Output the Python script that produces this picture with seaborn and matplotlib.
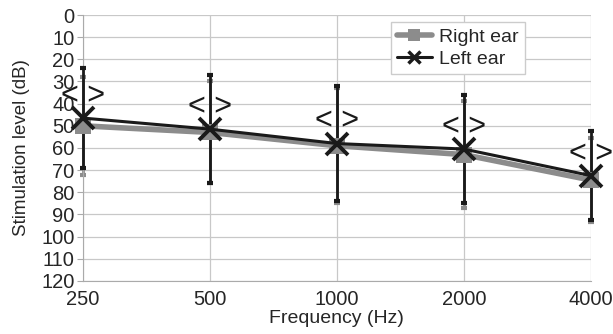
import numpy as np
import pandas as pd
import seaborn as sns
import matplotlib.pyplot as plt
from matplotlib.lines import Line2D

frequencias = ["250", "500", "1000", "2000", "4000"]
direita = [50, 53, 59, 63, 74.5]
direita_erro = [22, 23, 26, 24, 19]
esquerda = [46.5, 51.5, 58, 60.5, 72.5]
esquerda_erro = [22.5, 24.5, 26, 24.5, 20]

sns.set_style("white")
plt.rcParams["font.family"] = ["Liberation Sans", "DejaVu Sans"]

cinza = "#8c8c8c"
preto = "#1a1a1a"

pos = np.arange(len(frequencias))
dados_dir = pd.DataFrame({"pos": pos, "nivel": direita})
dados_esq = pd.DataFrame({"pos": pos, "nivel": esquerda})

fig = plt.figure(figsize=(6.13, 3.34), dpi=100)
ax = fig.add_axes([0.135, 0.159, 0.829, 0.796])

# error bars first so the lines sit on top
for media, erro, cor, z in [(direita, direita_erro, cinza, 2),
                            (esquerda, esquerda_erro, preto, 3)]:
    barras = ax.errorbar(pos, media, yerr=erro, fmt="none", ecolor=cor,
                         elinewidth=2, capsize=2.5, capthick=3, zorder=z)
    for parte in barras.lines[1] + barras.lines[2]:
        parte.set_clip_on(False)

sns.lineplot(data=dados_dir, x="pos", y="nivel", color=cinza, marker="s",
             markersize=11, markeredgewidth=0, markerfacecolor=cinza,
             linewidth=4, ax=ax, zorder=4, clip_on=False)
sns.lineplot(data=dados_esq, x="pos", y="nivel", color=preto, marker="x",
             markersize=16, markeredgewidth=2.8, markeredgecolor=preto,
             linewidth=2.2, ax=ax, zorder=5, clip_on=False)

# "< >" marks above each point
for p, v in zip(pos, esquerda):
    ax.text(p, v - 10, "< >", ha="center", va="center", fontsize=22,
            color=preto, zorder=6)

ax.set_xlim(0, 4)
ax.set_ylim(120, 0)
ax.set_yticks(range(0, 121, 10))
ax.set_xticks(pos)
ax.set_xticklabels(frequencias)
ax.grid(True, color="#c8c8c8", linewidth=0.9)
for lado in ["top", "right"]:
    ax.spines[lado].set_visible(False)
ax.spines["left"].set_color("#aaaaaa")
ax.spines["bottom"].set_color("#aaaaaa")
ax.tick_params(axis="y", left=True, length=4, color="#aaaaaa", labelsize=14.5, pad=2)
ax.tick_params(axis="x", bottom=False, labelsize=14.5, pad=3)
ax.set_xlabel("Frequency (Hz)", fontsize=14, labelpad=1)
ax.set_ylabel("Stimulation level (dB)", fontsize=13.5, labelpad=8)

handles = [
    Line2D([], [], color=cinza, linewidth=4, marker="s", markersize=8,
           markeredgewidth=0),
    Line2D([], [], color=preto, linewidth=2.2, marker="x", markersize=9,
           markeredgewidth=2.5),
]
ax.legend(handles, ["Right ear", "Left ear"], loc="upper left",
          bbox_to_anchor=(0.606, 0.973), borderaxespad=0, fontsize=14,
          frameon=True, fancybox=False, edgecolor="#cccccc", framealpha=1,
          handlelength=1.8, handletextpad=0.4, borderpad=0.3, labelspacing=0.25)

fig.savefig("out.png", dpi=100)
